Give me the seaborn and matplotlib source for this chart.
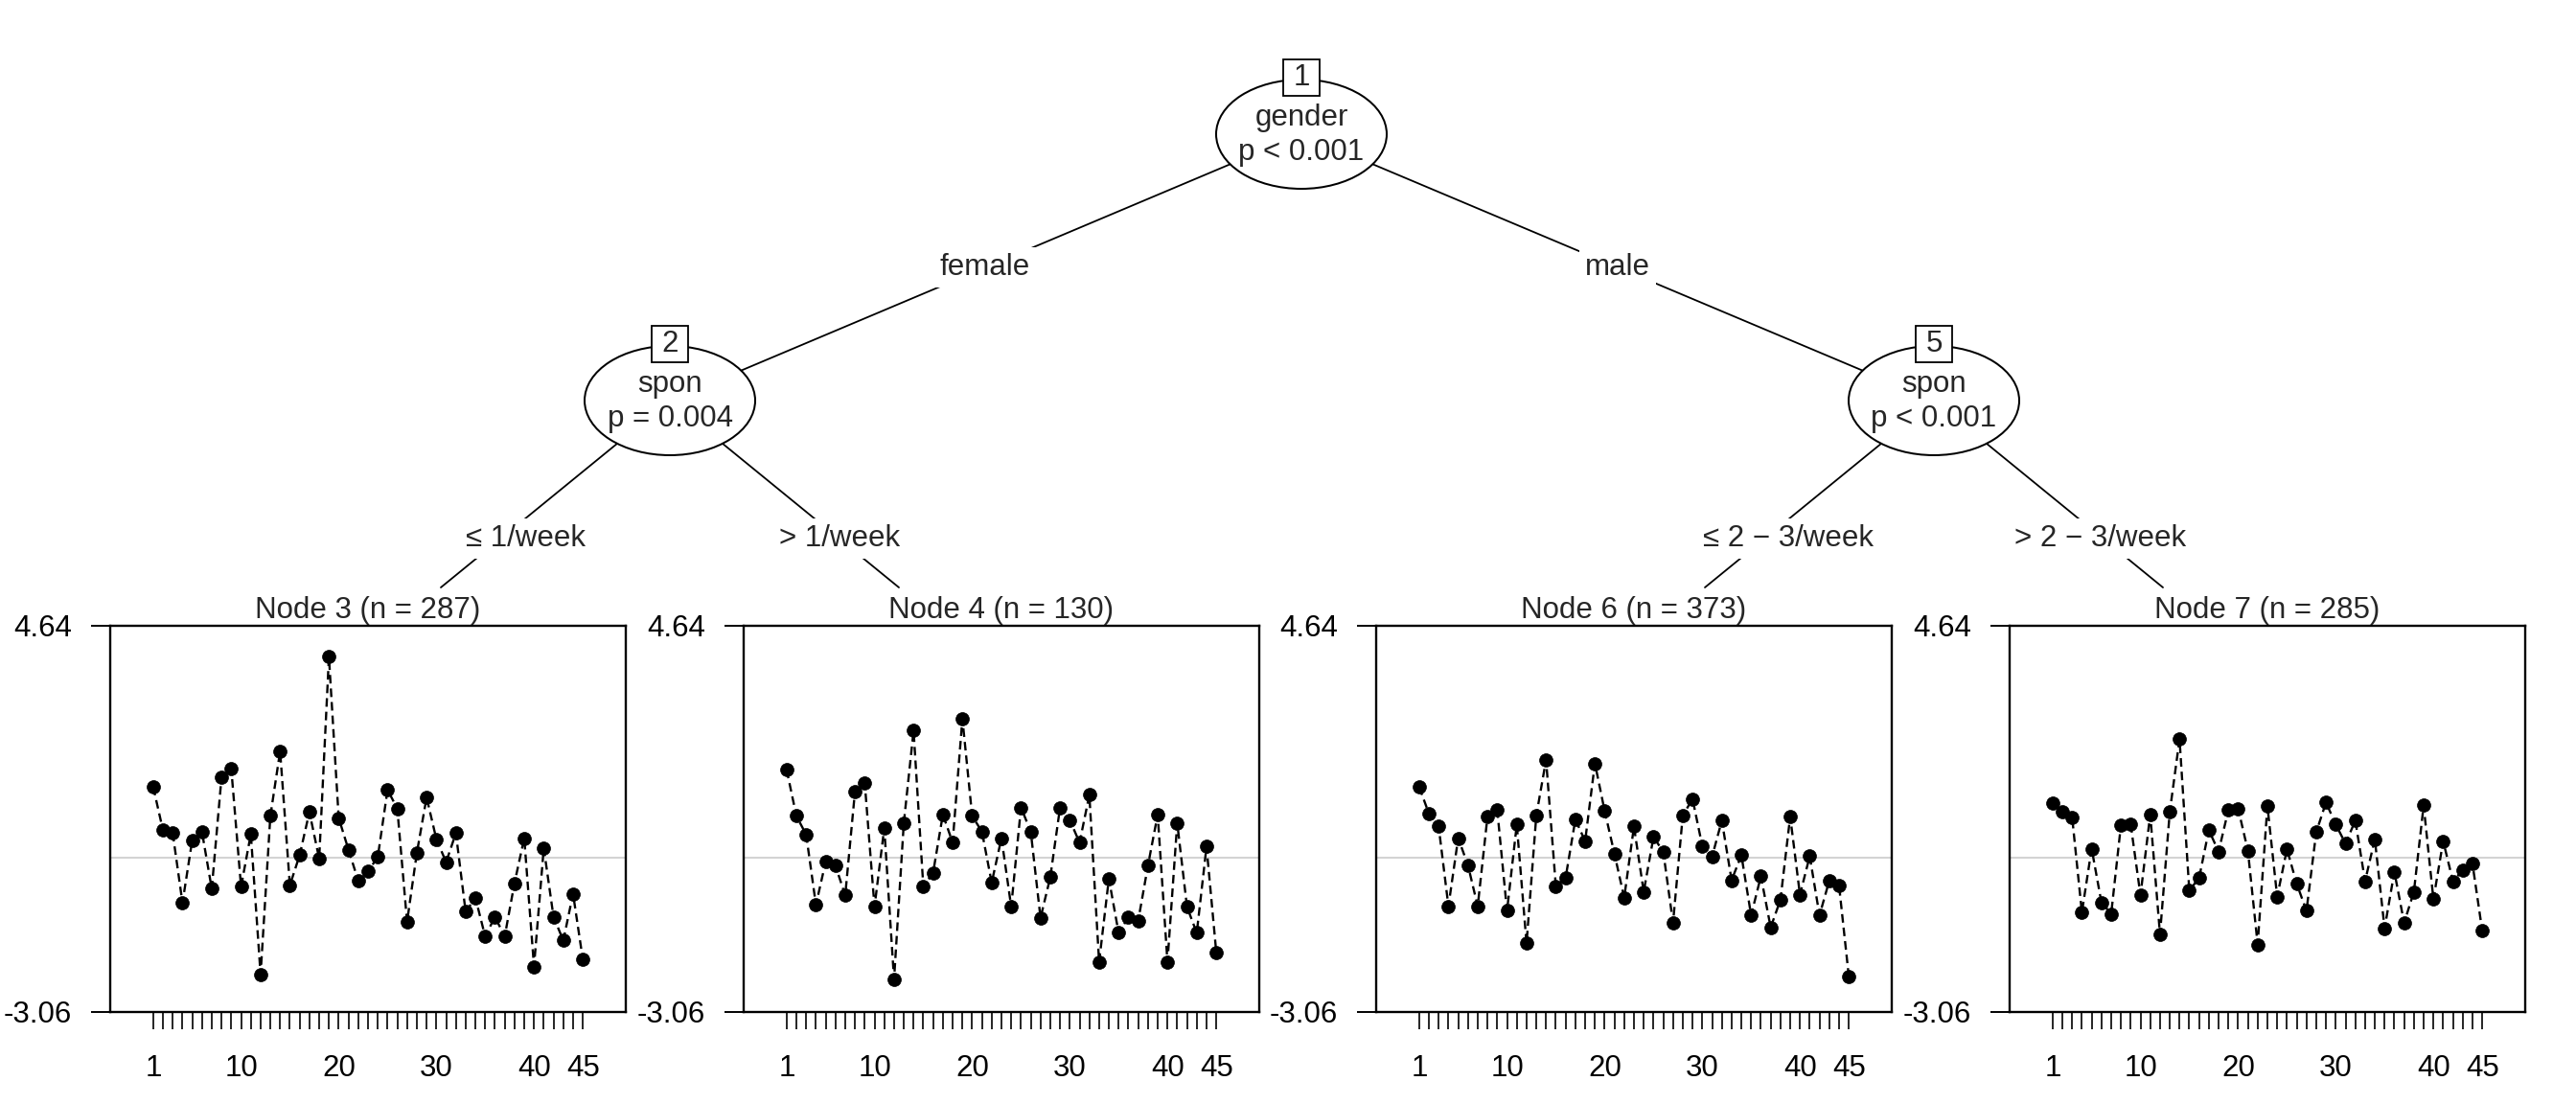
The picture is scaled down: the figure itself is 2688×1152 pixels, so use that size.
import numpy as np
import pandas as pd
import seaborn as sns
import matplotlib.pyplot as plt
from matplotlib.patches import Ellipse, Rectangle

# values per item (1..45) in each terminal node
node3_vals = [1.42, 0.56, 0.50, -0.89, 0.36, 0.52, -0.61, 1.61, 1.78, -0.57,
              0.48, -2.32, 0.84, 2.13, -0.54, 0.06, 0.92, -0.01, 4.01, 0.80,
              0.17, -0.45, -0.26, 0.02, 1.36, 0.99, -1.27, 0.10, 1.21, 0.38,
              -0.08, 0.50, -1.07, -0.79, -1.56, -1.17, -1.56, -0.50, 0.40, -2.16,
              0.20, -1.17, -1.64, -0.71, -2.02]
node4_vals = [1.76, 0.84, 0.47, -0.93, -0.07, -0.15, -0.74, 1.33, 1.50, -0.97,
              0.60, -2.42, 0.70, 2.54, -0.57, -0.29, 0.87, 0.31, 2.78, 0.84,
              0.53, -0.49, 0.40, -0.97, 1.01, 0.53, -1.19, -0.38, 1.01, 0.76,
              0.31, 1.26, -2.07, -0.41, -1.49, -1.18, -1.25, -0.15, 0.87, -2.07,
              0.70, -0.97, -1.49, 0.23, -1.88]
node6_vals = [1.42, 0.89, 0.63, -0.96, 0.40, -0.14, -0.96, 0.83, 0.96, -1.05,
              0.67, -1.70, 0.85, 1.96, -0.56, -0.39, 0.77, 0.34, 1.89, 0.94,
              0.09, -0.79, 0.63, -0.67, 0.42, 0.13, -1.29, 0.85, 1.18, 0.24,
              0.03, 0.75, -0.44, 0.06, -1.14, -0.36, -1.38, -0.83, 0.83, -0.73,
              0.04, -1.14, -0.45, -0.54, -2.35]
node7_vals = [1.10, 0.92, 0.82, -1.08, 0.19, -0.88, -1.11, 0.66, 0.67, -0.74,
              0.87, -1.52, 0.92, 2.37, -0.64, -0.40, 0.56, 0.13, 0.96, 0.99,
              0.15, -1.72, 1.04, -0.77, 0.18, -0.51, -1.05, 0.52, 1.11, 0.67,
              0.29, 0.75, -0.46, 0.38, -1.40, -0.27, -1.29, -0.67, 1.05, -0.82,
              0.34, -0.46, -0.24, -0.11, -1.45]

node_ids = [3, 4, 6, 7]
node_n = [287, 130, 373, 285]
items = list(range(1, 46))
xtick_shown = [1, 10, 20, 30, 40, 45]
y_min, y_max = -3.06, 4.64
ytick_labels = ["-3.06", "4.64"]

inner_nodes = [(1, "gender", "p < 0.001"), (2, "spon", "p = 0.004"), (5, "spon", "p < 0.001")]
edge_labels = ["female", "male", "≤ 1/week", "> 1/week", "≤ 2 − 3/week", "> 2 − 3/week"]

sns.set_style("white")
plt.rcParams["font.family"] = ["Liberation Sans", "DejaVu Sans"]
FS = 22.5

# layout in figure pixels (2688 x 1152)
W, H = 2688, 1152
inner_pos = {1: (1358, 140), 2: (699, 418), 5: (2018, 418)}
ell_w, ell_h = 178, 114
leaf_top = {3: (460, 613), 4: (938, 613), 6: (1779, 613), 7: (2257, 613)}
edges = [(1, 2), (1, 5), (2, 3), (2, 4), (5, 6), (5, 7)]
label_pos = [(1028, 279), (1688, 279), (548, 562), (876, 562), (1866, 562), (2192, 562)]
panel_left = [115, 776, 1436, 2097]
panel_w = 538
panel_top, panel_bottom = 652.5, 1055.7

fig = plt.figure(figsize=(26.88, 11.52), dpi=100)
tree = fig.add_axes([0, 0, 1, 1])
tree.set_xlim(0, W)
tree.set_ylim(H, 0)
tree.axis("off")

def node_xy(k):
    return inner_pos[k] if k in inner_pos else leaf_top[k]

for (a, b), lab, (lx, ly) in zip(edges, edge_labels, label_pos):
    (xa, ya), (xb, yb) = node_xy(a), node_xy(b)
    tree.plot([xa, xb], [ya, yb], color="black", lw=1.3, zorder=1)
    tree.text(lx, ly, lab, ha="center", va="center", fontsize=FS, zorder=4,
              bbox=dict(facecolor="white", edgecolor="none", pad=4))

for k, var, pval in inner_nodes:
    cx, cy = inner_pos[k]
    tree.add_patch(Ellipse((cx, cy), ell_w, ell_h, facecolor="white",
                           edgecolor="black", lw=1.45, zorder=2))
    tree.text(cx, cy - 17, var, ha="center", va="center", fontsize=FS, zorder=3)
    tree.text(cx, cy + 19, pval, ha="center", va="center", fontsize=FS, zorder=3)
    tree.add_patch(Rectangle((cx - 19, cy - 59 - 19), 38, 38, facecolor="white",
                             edgecolor="black", lw=1.3, zorder=3))
    tree.text(cx, cy - 59, str(k), ha="center", va="center", fontsize=FS, zorder=4)

for vals, nid, cnt, x0 in zip([node3_vals, node4_vals, node6_vals, node7_vals],
                              node_ids, node_n, panel_left):
    ax = fig.add_axes([x0 / W, 1 - panel_bottom / H, panel_w / W,
                       (panel_bottom - panel_top) / H])
    df = pd.DataFrame({"item": items, "value": vals})
    ax.axhline(0, color="#D3D3D3", lw=1.5, zorder=1)
    sns.lineplot(data=df, x="item", y="value", ax=ax, color="black", lw=1.7,
                 linestyle=(0, (3.8, 2.2)), marker="o", markersize=10,
                 markeredgecolor="black", markeredgewidth=0.5, zorder=3)
    ax.set_xlim(1 - 4.4, 45 + 4.4)
    ax.set_ylim(y_min, y_max)
    ax.set_xticks(items)
    ax.set_xticklabels([str(i) if i in xtick_shown else "" for i in items])
    ax.set_yticks([y_min, y_max])
    ax.set_yticklabels(ytick_labels)
    ax.tick_params(axis="x", bottom=True, direction="out", length=13, width=1.2,
                   pad=19, labelsize=FS, colors="black")
    ax.tick_params(axis="y", left=True, direction="out", length=14.4, width=1.4,
                   pad=14.4, labelsize=FS, colors="black")
    ax.set_xlabel("")
    ax.set_ylabel("")
    for s in ax.spines.values():
        s.set_visible(True)
        s.set_color("black")
        s.set_linewidth(1.7)
    ax.set_title(f"Node {nid} (n = {cnt})", fontsize=FS, pad=5.4)

fig.savefig("out.png", dpi=100)
